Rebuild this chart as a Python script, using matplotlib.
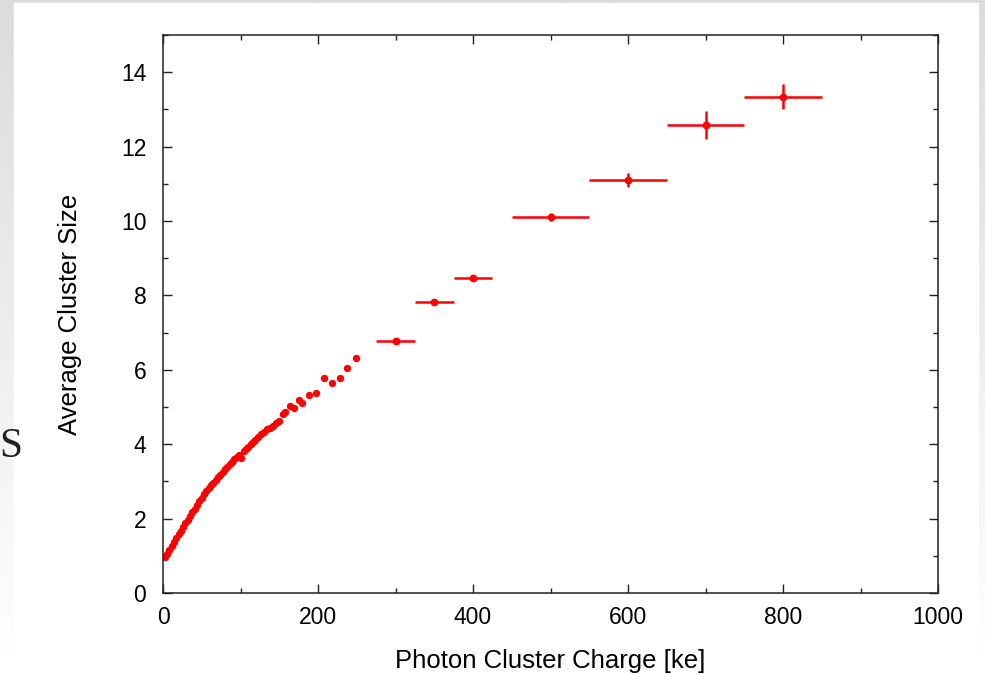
import numpy as np
import matplotlib
matplotlib.use("Agg")
import matplotlib.pyplot as plt
from matplotlib.patches import Rectangle

plt.rcParams['font.family'] = ['Liberation Sans', 'DejaVu Sans']

# dense low-charge measurements (charge in ke, average cluster size)
low_q = [2, 5, 8, 11, 14, 17, 20, 23, 26, 29, 32, 35, 38, 41, 44, 47, 50,
         53, 56, 59, 62, 65, 68, 71, 74, 77, 80, 83, 86, 89, 92, 95, 98,
         101, 104, 107, 110, 113, 116, 119, 122, 126, 130, 134, 138, 142,
         146, 150, 155, 158, 164, 169, 175, 179, 188, 198, 208, 218, 228,
         238, 249]
low_size = [0.97, 1.05, 1.15, 1.27, 1.38, 1.48, 1.58, 1.68, 1.77, 1.87,
            1.97, 2.07, 2.17, 2.27, 2.37, 2.47, 2.56, 2.65, 2.73, 2.81,
            2.89, 2.96, 3.04, 3.11, 3.18, 3.25, 3.32, 3.39, 3.46, 3.53,
            3.60, 3.66, 3.72, 3.64, 3.82, 3.88, 3.93, 4.00, 4.06, 4.12,
            4.20, 4.28, 4.34, 4.40, 4.44, 4.48, 4.56, 4.62, 4.80, 4.86,
            5.03, 4.96, 5.20, 5.12, 5.32, 5.37, 5.77, 5.64, 5.78, 6.06,
            6.32]

# binned high-charge points
bin_q = [300, 350, 400, 500, 600, 700, 800]
bin_q_err = [25, 25, 25, 50, 50, 50, 50]
bin_size = [6.78, 7.81, 8.48, 10.11, 11.10, 12.59, 13.34]
bin_size_err = [0.04, 0.04, 0.04, 0.10, 0.19, 0.38, 0.33]

W, H = 985, 675
fig = plt.figure(figsize=(W / 100, H / 100), dpi=100)

# slide background behind the plot
bg = fig.add_axes([0, 0, 1, 1], zorder=-5)
grad = np.linspace(0.86, 1.0, 256).reshape(-1, 1)
bg.imshow(grad, cmap='gray', vmin=0, vmax=1, aspect='auto',
          extent=[0, 1, 0, 1], origin='upper')
bg.set_axis_off()
fig.patches.append(Rectangle((14 / W, 0), (978 - 14) / W, (H - 3) / H,
                             transform=fig.transFigure, color='white',
                             zorder=-4))
fig.text(-0.001, 1 - 447 / H, 'S', family='Liberation Serif', fontsize=30,
         va='center', ha='left', color='#222222', zorder=-3)

ax = fig.add_axes([163 / W, 1 - 593 / H, (938 - 163) / W, (593 - 35) / H],
                  zorder=2)

ax.plot(low_q, low_size, 'o', color='red', ms=5.3, mec='red', mew=0)
ax.errorbar(bin_q, bin_size, xerr=bin_q_err, yerr=bin_size_err, fmt='o',
            color='red', ms=4.6, elinewidth=1.8, capsize=0)

ax.set_xlim(0, 1000)
ax.set_ylim(0, 15)
ax.set_xticks(np.arange(0, 1001, 200))
ax.set_xticks(np.arange(0, 1001, 100), minor=True)
ax.set_yticks(np.arange(0, 15, 2))
ax.set_yticks(np.arange(0, 15.1, 1), minor=True)
ax.tick_params(which='both', direction='in', top=True, right=True,
               width=1.0, colors='#222222', labelcolor='black')
ax.tick_params(which='major', length=6.5, labelsize=16.5)
ax.tick_params(which='minor', length=3.5)
ax.tick_params(axis='x', pad=9)
ax.tick_params(axis='y', pad=12)
for s in ax.spines.values():
    s.set_linewidth(1.1)
    s.set_color('#222222')

ax.set_xlabel('Photon Cluster Charge [ke]', fontsize=18.5, labelpad=15)
ax.set_ylabel('Average Cluster Size', fontsize=18.5, labelpad=28)

fig.savefig('out.png', dpi=100)
